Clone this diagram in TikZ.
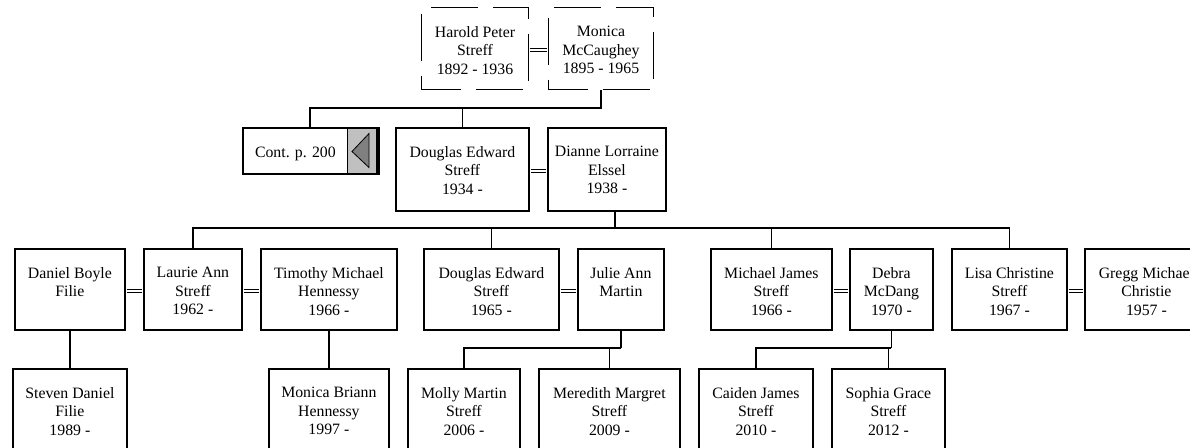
\documentclass[tikz,border=0pt]{standalone}
\usepackage{fontspec}
\setmainfont{Liberation Serif}
\usetikzlibrary{positioning}

\definecolor{btngray}{HTML}{C0C0C0}
\definecolor{arrowgray}{HTML}{808080}

\begin{document}
\begin{tikzpicture}[x=1pt, y=-1pt, line join=miter,
    box/.style={draw, line width=1.8pt, inner sep=0pt, anchor=north west},
    dashbox/.style={draw, line width=1pt, inner sep=0pt, anchor=north west,
                    dash pattern=on 47pt off 15pt, dash phase=8pt},
    txt/.style={font=\fontsize{15.8}{18.3}\selectfont, align=center, inner sep=0pt},
    link/.style={line width=1.8pt},
    marry/.style={double, double distance=2.6pt, line width=1.1pt,
                  shorten <=0.9pt, shorten >=0.9pt,
                  transform canvas={yshift=-1.5pt}}]

  % 钉死画布（1190 x 447），超出部分裁掉
  \path[use as bounding box] (0,0) rectangle (1190,447);
  \clip (0,0) rectangle (1190,447);

  % ── 第一代：虚线框 ──
  \node[dashbox, minimum width=107pt, minimum height=82pt] (harold) at (421,7) {};
  \node[dashbox, minimum width=105pt, minimum height=82pt] (monica) at (548,7) {};

  % ── Cont. 框：灰色按钮 + 左向三角 ──
  \node[anchor=north west, fill=btngray, inner sep=0pt,
        minimum width=29pt, minimum height=46pt] (contbtn) at (347,127) {};
  \node[box, minimum width=134pt, minimum height=46pt] (cont) at (242,127) {};
  \draw[line width=0.8pt] (contbtn.north west) -- (contbtn.south west);
  \draw[line width=3pt] ([xshift=0.9pt]cont.north east) -- ([xshift=0.9pt]cont.south east);
  \filldraw[fill=arrowgray, line width=0.8pt] (352,151.5) -- (369,133.5) -- (369,167.5) -- cycle;

  % ── 其余实线框（名/左/上/宽/高）──
  \foreach \nm/\x/\y/\w/\h in {%
      douglas/395/127/133/83,
      dianne/547/127/118/83,
      daniel/14/248/110/81,
      laurie/143/248/98/81,
      timothy/260/248/136/81,
      douglasjr/423/248/135/81,
      julie/577/248/86/81,
      michael/710/248/121/81,
      debra/849/248/83/81,
      lisa/951/248/115/81,
      gregg/1084/248/123/81,
      steven/12/368/114/100,
      monicab/268/368/120/100,
      molly/407/368/112/100,
      meredith/538/368/141/100,
      caiden/698/368/114/100,
      sophia/831/368/113/100}
    \node[box, minimum width=\w pt, minimum height=\h pt] (\nm) at (\x,\y) {};

  % ── 文字：顶端对齐 ──
  \foreach \nm/\txt in {%
      harold/{Harold Peter\\Streff\\1892 - 1936},
      monica/{Monica\\McCaughey\\1895 - 1965},
      douglas/{Douglas Edward\\Streff\\1934 -},
      dianne/{Dianne Lorraine\\Elssel\\1938 -},
      daniel/{Daniel Boyle\\Filie},
      laurie/{Laurie Ann\\Streff\\1962 -},
      timothy/{Timothy Michael\\Hennessy\\1966 -},
      douglasjr/{Douglas Edward\\Streff\\1965 -},
      julie/{Julie Ann\\Martin},
      michael/{Michael James\\Streff\\1966 -},
      debra/{Debra\\McDang\\1970 -},
      lisa/{Lisa Christine\\Streff\\1967 -},
      gregg/{Gregg Michael\\Christie\\1957 -},
      steven/{Steven Daniel\\Filie\\1989 -},
      monicab/{Monica Briann\\Hennessy\\1997 -},
      molly/{Molly Martin\\Streff\\2006 -},
      meredith/{Meredith Margret\\Streff\\2009 -},
      caiden/{Caiden James\\Streff\\2010 -},
      sophia/{Sophia Grace\\Streff\\2012 -}}
    \node[txt, below=19.3pt of \nm.north] (\nm-t) {\txt};
  \node[txt, below=19.3pt of cont.north, xshift=-14.5pt] (cont-t) {Cont. p. 200};

  % ── 婚姻双线 ──
  \foreach \a/\b in {harold/monica, douglas/dianne, daniel/laurie, laurie/timothy,
                     douglasjr/julie, michael/debra, lisa/gregg}
    \draw[marry] (\a.east) -- (\b.west);

  % ── 亲子连线 ──
  \coordinate (bar1) at (monica.south |- 0,108);
  \draw[link] (monica.south) -- (bar1) -| (cont.north);
  \draw[link] (bar1) -| (douglas.north);

  \coordinate (dd) at ([xshift=8pt]dianne.south);
  \coordinate (bar2) at (dd |- 0,228);
  \draw[link] (dd) -- (bar2);
  \draw[link] (laurie.north) |- (bar2) -| (lisa.north);
  \foreach \k in {douglasjr, michael}
    \draw[link] (\k.north) -- (\k.north |- bar2);

  \draw[link] (daniel.south) -- (steven.north);
  \draw[link] (timothy.south) -- (monicab.north);

  \coordinate (bar3) at (julie.south |- 0,348);
  \draw[link] (julie.south) -- (bar3);
  \draw[link] (molly.north) |- (bar3);
  \draw[link] (meredith.north) -- (meredith.north |- bar3);

  \coordinate (bar4) at (debra.south |- 0,348);
  \draw[link] (debra.south) -- (bar4);
  \draw[link] (caiden.north) |- (bar4);
  \draw[link] (sophia.north) -- (sophia.north |- bar4);
\end{tikzpicture}
\end{document}
